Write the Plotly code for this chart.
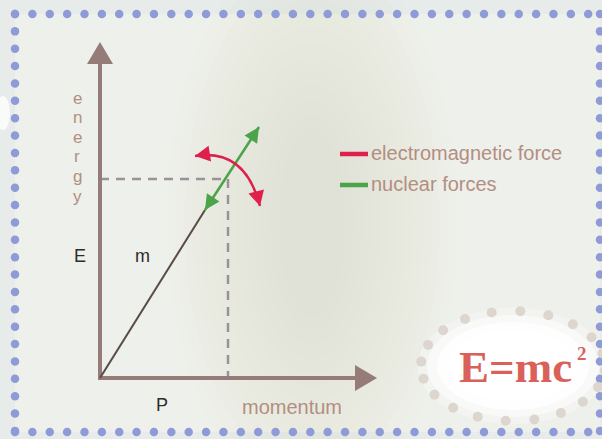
import numpy as np
import plotly.graph_objects as go

W, H = 602, 439

# ---- diagram values (diagram units, origin at the axes' corner) ----
momentum_P = 128          # momentum of the particle
energy_E = 199            # energy of the particle
axis_x_len = 277          # momentum axis length (to arrow tip)
axis_y_len = 336          # energy axis length (to arrow tip)
mass_line_end = [105, 168]    # end of the "m" line (start of green arrow)
green_tip = [159, 251]        # far end of the nuclear-force arrow
red_start = [95, 222]         # electromagnetic arc start
red_ctrl = [145, 230]         # electromagnetic arc bend
red_end = [160, 172]          # electromagnetic arc end

legend_labels = ["electromagnetic force", "nuclear forces"]
legend_colors = ["#df1f4c", "#4ba34a"]
axis_title_x = "momentum"
axis_title_y = "energy"
point_labels = ["E", "m", "P"]
formula = "E=mc"
formula_power = "2"

ORIGIN = (100, 378)   # pixel position of the origin


def dx(px):
    return px - ORIGIN[0]


def dy(py):
    return ORIGIN[1] - py


AXIS_COL = "#957c78"
TAN = "#b38e82"

shapes = []
annots = []

# background panel inside the dotted frame
shapes.append(dict(type="rect", xref="x", yref="y", x0=dx(15), x1=dx(600), y0=dy(14), y1=dy(432),
                   fillcolor="#eef0eb", line=dict(width=0), layer="below"))
# soft yellowish glow in the middle
n_glow = 14
for i in range(n_glow):
    f = 1 - i / n_glow
    rx, ry = 25 + 120 * f, 80 + 200 * f
    cx, cy = 312, 222
    shapes.append(dict(type="circle", xref="x", yref="y", x0=dx(cx - rx), x1=dx(cx + rx),
                       y0=dy(cy - ry), y1=dy(cy + ry), fillcolor="rgba(218,218,188,0.03)",
                       line=dict(width=0), layer="below"))
# white blur on left edge
shapes.append(dict(type="circle", xref="x", yref="y", x0=dx(-4), x1=dx(10), y0=dy(96), y1=dy(130),
                   fillcolor="rgba(255,255,255,0.75)", line=dict(width=0), layer="below"))
# white glow behind formula
for rx, ry, op in [(95, 58, 0.3), (86, 51, 0.5), (76, 44, 0.7), (64, 36, 0.8)]:
    cx, cy = 513, 366
    shapes.append(dict(type="circle", xref="x", yref="y", x0=dx(cx - rx), x1=dx(cx + rx),
                       y0=dy(cy - ry), y1=dy(cy + ry), fillcolor=f"rgba(255,255,255,{op})",
                       line=dict(width=0), layer="below"))


def tri(tip, direction, length, half):
    d = np.array(direction, float)
    d /= np.linalg.norm(d)
    n = np.array([-d[1], d[0]])
    t = np.array(tip, float)
    b = t - d * length
    p1 = b + n * half
    p2 = b - n * half
    return f"M {t[0]},{t[1]} L {p1[0]},{p1[1]} L {p2[0]},{p2[1]} Z"


# dashed guides to the point (P, E)
dash_style = dict(color="#9c9199", width=2.5, dash="9px,7px")
shapes.append(dict(type="line", xref="x", yref="y", x0=0, y0=energy_E, x1=momentum_P, y1=energy_E,
                   line=dash_style, layer="above"))
shapes.append(dict(type="line", xref="x", yref="y", x0=momentum_P, y0=energy_E, x1=momentum_P, y1=0,
                   line=dash_style, layer="above"))

# axes
shapes.append(dict(type="line", xref="x", yref="y", x0=0, y0=0, x1=0, y1=axis_y_len - 18,
                   line=dict(color=AXIS_COL, width=4)))
shapes.append(dict(type="line", xref="x", yref="y", x0=-2, y0=0, x1=axis_x_len - 18, y1=0,
                   line=dict(color=AXIS_COL, width=4)))
shapes.append(dict(type="path", xref="x", yref="y", path=tri((0, axis_y_len), (0, 1), 22, 13),
                   fillcolor=AXIS_COL, line=dict(width=0)))
shapes.append(dict(type="path", xref="x", yref="y", path=tri((axis_x_len, 0), (1, 0), 22, 13),
                   fillcolor=AXIS_COL, line=dict(width=0)))

# mass line
shapes.append(dict(type="line", xref="x", yref="y", x0=0, y0=0, x1=mass_line_end[0], y1=mass_line_end[1],
                   line=dict(color="#5a4c48", width=2)))

# green (nuclear) double arrow
g = legend_colors[1]
gd = (green_tip[0] - mass_line_end[0], green_tip[1] - mass_line_end[1])
shapes.append(dict(type="line", xref="x", yref="y", x0=mass_line_end[0], y0=mass_line_end[1],
                   x1=green_tip[0], y1=green_tip[1], line=dict(color=g, width=2.5)))
shapes.append(dict(type="path", xref="x", yref="y", path=tri(green_tip, gd, 15, 7.5),
                   fillcolor=g, line=dict(width=0)))
shapes.append(dict(type="path", xref="x", yref="y", path=tri(mass_line_end, (-gd[0], -gd[1]), 15, 7.5),
                   fillcolor=g, line=dict(width=0)))

# red (electromagnetic) curved double arrow
r = legend_colors[0]
shapes.append(dict(type="path", xref="x", yref="y",
                   path=f"M {red_start[0]},{red_start[1]} Q {red_ctrl[0]},{red_ctrl[1]} {red_end[0]},{red_end[1]}",
                   line=dict(color=r, width=2.5)))
shapes.append(dict(type="path", xref="x", yref="y",
                   path=tri(red_start, (red_start[0] - red_ctrl[0], red_start[1] - red_ctrl[1]), 15, 8),
                   fillcolor=r, line=dict(width=0)))
shapes.append(dict(type="path", xref="x", yref="y",
                   path=tri(red_end, (red_end[0] - red_ctrl[0], red_end[1] - red_ctrl[1]), 15, 8),
                   fillcolor=r, line=dict(width=0)))

# legend
for i, (lab, col) in enumerate(zip(legend_labels, legend_colors)):
    yy = 154 + 31 * i
    shapes.append(dict(type="line", xref="x", yref="y", x0=dx(340), x1=dx(368), y0=dy(yy), y1=dy(yy),
                       line=dict(color=col, width=4.5)))
    annots.append(dict(x=dx(369), y=dy(yy - 1), text=lab, showarrow=False, xanchor="left", yanchor="middle",
                       font=dict(family="Liberation Sans, Arial", size=20, color=TAN)))

# axis titles (vertical stacked letters)
for i, ch in enumerate(axis_title_y):
    annots.append(dict(x=dx(77), y=dy(98 + 19.6 * i), text=ch, showarrow=False, xanchor="center",
                       yanchor="middle",
                       font=dict(family="Liberation Sans, Arial", size=17, color=TAN)))
annots.append(dict(x=dx(292), y=dy(407), text=axis_title_x, showarrow=False, xanchor="center", yanchor="middle",
                   font=dict(family="Liberation Sans, Arial", size=20, color=TAN)))

# point labels
for lab, (px, py) in zip(point_labels, [(80, 256), (142, 256), (162, 405)]):
    annots.append(dict(x=dx(px), y=dy(py), text=lab, showarrow=False, xanchor="center", yanchor="middle",
                       font=dict(family="Liberation Sans, Arial", size=18, color="#2e2b2b")))

# formula
annots.append(dict(x=dx(574), y=dy(367), text="<b>" + formula + "</b>", showarrow=False, xanchor="right",
                   yanchor="middle",
                   font=dict(family="Liberation Serif, DejaVu Serif", size=45, color="#d9615a")))
annots.append(dict(x=dx(575), y=dy(353), text="<b>" + formula_power + "</b>", showarrow=False, xanchor="left",
                   yanchor="middle",
                   font=dict(family="Liberation Serif, DejaVu Serif", size=19, color="#d9615a")))

fig = go.Figure()

# dotted frame (blue dots)
step = 17.37
xs_row = [15 + step * k for k in range(34)]
ys_col = [14 + step * k for k in range(25)]
frame_x = xs_row + xs_row + [15] * len(ys_col) + [600] * len(ys_col)
frame_y = [14] * len(xs_row) + [432] * len(xs_row) + ys_col + ys_col
fig.add_trace(go.Scatter(x=[dx(v) for v in frame_x], y=[dy(v) for v in frame_y], mode="markers",
                         marker=dict(size=8.5, color="#8f9bd7", line=dict(width=0)),
                         hoverinfo="skip", showlegend=False))

# dotted ellipse around the formula (grey dots)
theta = np.linspace(0, 2 * np.pi, 21)[:-1] + 0.08
ex = 513 + 92 * np.cos(theta)
ey = 366 + 55 * np.sin(theta)
fig.add_trace(go.Scatter(x=[dx(v) for v in ex], y=[dy(v) for v in ey], mode="markers",
                         marker=dict(size=10, color="#ddd6cf", line=dict(width=0)),
                         hoverinfo="skip", showlegend=False))

fig.update_layout(
    width=W, height=H, margin=dict(l=0, r=0, t=0, b=0),
    paper_bgcolor="#e7ebea", plot_bgcolor="rgba(0,0,0,0)",
    xaxis=dict(range=[dx(0), dx(W)], visible=False, fixedrange=True),
    yaxis=dict(range=[dy(H), dy(0)], visible=False, fixedrange=True),
    shapes=shapes, annotations=annots, showlegend=False,
)

fig.write_html("out.html", config={"displayModeBar": False},
               post_script="document.body.style.margin='0';document.body.style.overflow='hidden';")
